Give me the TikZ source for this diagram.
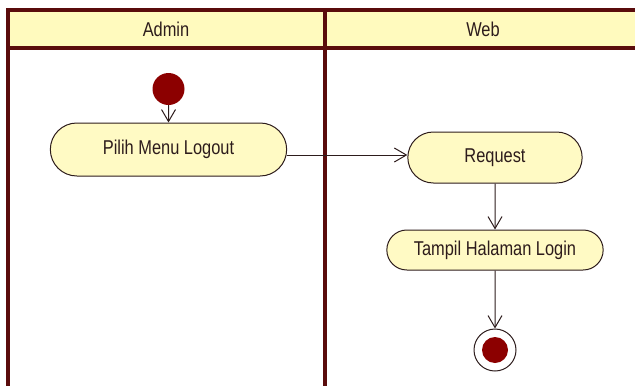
\documentclass[tikz,border=0pt]{standalone}
\usepackage{fontspec}
\setmainfont{Liberation Sans}
\usepackage{tikz}
\usetikzlibrary{shapes.misc}
\usetikzlibrary{arrows.meta}
\usepackage{xcolor}
\usepackage{graphicx}
\definecolor{lane}{RGB}{90,12,12}
\definecolor{headfill}{RGB}{255,250,190}
\definecolor{actfill}{RGB}{255,250,196}
\definecolor{dotred}{RGB}{140,0,0}
\definecolor{ink}{RGB}{45,28,28}
\newcommand\talltext[1]{\scalebox{1}[1.22]{#1}}
\tikzset{
	activity/.style={rounded rectangle, draw=ink, fill=actfill, line width=1pt, font=\fontsize{16.4}{18}\selectfont, text=ink},
	lanetitle/.style={font=\fontsize{16.4}{18}\selectfont, text=ink},
	flow/.style={draw=ink, line width=1pt, -{Straight Barb[length=12pt,width=14pt]}},
}

\begin{document}
\begin{tikzpicture}[x=1pt, y=-1pt]
				\useasboundingbox (0, 0) rectangle (635, 386);
				% swimlanes
				\fill[headfill] (8, 10) rectangle (635, 48);
				\draw[lane, line width=3.2pt] (635, 10)--(8, 10)--(8, 386);
				\draw[lane, line width=3.2pt] (8, 48)--(635, 48);
				\draw[lane, line width=3.2pt] (325, 10)--(325, 386);
				\node[lanetitle] (admin) at (166, 29.5) {\talltext{Admin}};
				\node[lanetitle] (web) at (483, 29.5) {\talltext{Web}};
				% activities
				\node[circle, fill=dotred, minimum size=32pt, inner sep=0] (start) at (168.5, 89) {};
				\node[activity, minimum width=243pt, minimum height=53pt] (logout) at (168.5, 149.5) {\talltext{Pilih Menu Logout}};
				\node[activity, minimum width=181pt, minimum height=51pt] (request) at (495, 157.5) {\talltext{Request}};
				\node[activity, minimum width=223pt, minimum height=40pt] (tampil) at (495, 250) {\talltext{Tampil Halaman Login}};
				\node[circle, draw=ink, fill=white, line width=1pt, minimum size=42pt, inner sep=0] (finish) at (495, 350) {};
				\fill[dotred] (finish.center) circle (13pt);
				% flows
				\draw[flow] (start)--(logout);
				\draw[flow] (logout.east |- 0, 155)--(request.west |- 0, 155);
				\draw[flow] (request)--(tampil);
				\draw[flow] (tampil)--(finish);
\end{tikzpicture}
\end{document}
